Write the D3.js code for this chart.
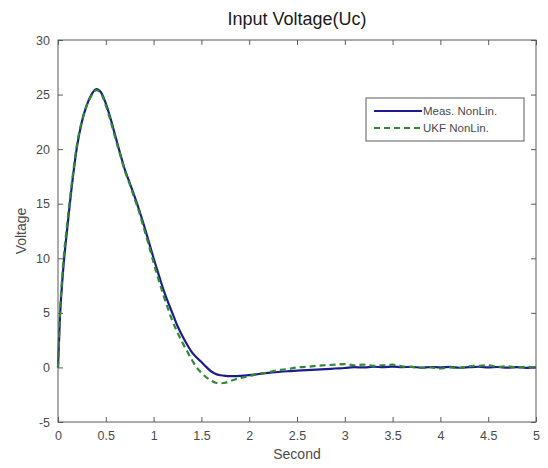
<!DOCTYPE html>
<html>
<head>
<meta charset="utf-8">
<script src="https://cdn.jsdelivr.net/npm/d3@7"></script>
<style>
  html, body { margin: 0; padding: 0; background: #fff; }
  svg { display: block; font-family: "Liberation Sans", Arial, sans-serif; }
</style>
</head>
<body>
<svg id="chart" width="548" height="468"></svg>
<script>
const times = [0, 0.02, 0.05, 0.1, 0.15, 0.2, 0.25, 0.3, 0.35, 0.4, 0.45, 0.5, 0.55, 0.6, 0.65, 0.7, 0.75, 0.8, 0.85, 0.9, 0.95,
  1.0, 1.05, 1.1, 1.15, 1.2, 1.25, 1.3, 1.35, 1.4, 1.45, 1.5, 1.55, 1.6, 1.65, 1.7, 1.75, 1.8, 1.85, 1.9, 1.95,
  2.0, 2.1, 2.2, 2.3, 2.4, 2.5, 2.6, 2.7, 2.8, 2.9, 3.0, 3.1, 3.2, 3.3, 3.4, 3.5, 3.6, 3.7, 3.8, 3.9,
  4.0, 4.1, 4.2, 4.3, 4.4, 4.5, 4.6, 4.7, 4.8, 4.9, 5.0];

const measNonLin = [0, 4.5, 8.5, 13.0, 17.0, 20.3, 22.5, 24.0, 25.0, 25.5, 25.2, 24.2, 22.8, 21.2, 19.6, 18.1, 16.9, 15.7, 14.4, 13.0, 11.5,
  10.0, 8.6, 7.2, 6.0, 4.9, 3.8, 2.9, 2.1, 1.4, 0.9, 0.5, 0.05, -0.35, -0.6, -0.72, -0.78, -0.8, -0.8, -0.78, -0.74,
  -0.7, -0.6, -0.5, -0.42, -0.35, -0.3, -0.25, -0.2, -0.15, -0.1, -0.05, 0.02, 0.0, 0.06, 0.02, 0.08, 0.03, 0.05, -0.02, 0.04,
  0.0, 0.05, -0.03, 0.02, 0.06, 0.0, 0.04, -0.02, 0.03, -0.04, 0.0];

const ukfNonLin = [0, 4.8, 9.0, 13.5, 17.3, 20.5, 22.6, 24.0, 24.9, 25.4, 25.1, 24.0, 22.6, 21.0, 19.5, 18.0, 16.8, 15.5, 14.2, 12.7, 11.2,
  9.6, 8.1, 6.7, 5.4, 4.2, 3.2, 2.3, 1.5, 0.7, 0.0, -0.5, -0.9, -1.2, -1.4, -1.45, -1.4, -1.25, -1.1, -1.0, -0.9,
  -0.8, -0.6, -0.45, -0.25, -0.15, 0.0, 0.05, 0.15, 0.2, 0.25, 0.3, 0.2, 0.25, 0.15, 0.2, 0.25, 0.1, 0.05, -0.05, 0.0,
  -0.1, 0.0, -0.05, 0.1, 0.15, 0.2, 0.05, 0.1, 0.0, 0.05, -0.05];

const xTicks = [0, 0.5, 1, 1.5, 2, 2.5, 3, 3.5, 4, 4.5, 5];
const yTicks = [-5, 0, 5, 10, 15, 20, 25, 30];
const seriesNames = ["Meas. NonLin.", "UKF NonLin."];

const W = 548, H = 468;
const margin = { left: 58, right: 12, top: 40, bottom: 46 };
const svg = d3.select("#chart");

const x = d3.scaleLinear().domain([0, 5]).range([margin.left, W - margin.right]);
const y = d3.scaleLinear().domain([-5, 30]).range([H - margin.bottom, margin.top]);

const axisColor = "#5a5a5a";
const textColor = "#4a4a4a";
const fmt = d => String(d);

svg.append("rect").attr("x", margin.left).attr("y", margin.top)
  .attr("width", x(5) - x(0)).attr("height", y(-5) - y(30)).attr("fill", "#fff");

const line = d3.line().x((d, i) => x(times[i])).y(d => y(d)).curve(d3.curveMonotoneX);

svg.append("path").datum(measNonLin).attr("d", line)
  .attr("fill", "none").attr("stroke", "#1c1c8f").attr("stroke-width", 2.2);
svg.append("path").datum(ukfNonLin).attr("d", line)
  .attr("fill", "none").attr("stroke", "#2f8a2f").attr("stroke-width", 2.2)
  .attr("stroke-dasharray", "6,4");

const tickLen = 5;
svg.append("g").attr("transform", `translate(0,${y(-5)})`)
  .call(d3.axisBottom(x).tickValues(xTicks).tickSizeInner(-tickLen).tickSizeOuter(0).tickPadding(9).tickFormat(fmt))
  .call(g => g.select(".domain").remove());
svg.append("g").attr("transform", `translate(0,${y(30)})`)
  .call(d3.axisTop(x).tickValues(xTicks).tickSizeInner(-tickLen).tickSizeOuter(0).tickFormat(""))
  .call(g => g.select(".domain").remove());
svg.append("g").attr("transform", `translate(${x(0)},0)`)
  .call(d3.axisLeft(y).tickValues(yTicks).tickSizeInner(-tickLen).tickSizeOuter(0).tickPadding(8).tickFormat(fmt))
  .call(g => g.select(".domain").remove());
svg.append("g").attr("transform", `translate(${x(5)},0)`)
  .call(d3.axisRight(y).tickValues(yTicks).tickSizeInner(-tickLen).tickSizeOuter(0).tickFormat(""))
  .call(g => g.select(".domain").remove());

svg.selectAll(".tick line").attr("stroke", axisColor);
svg.selectAll(".tick text").attr("fill", textColor).style("font-size", "12.5px")
  .style("font-family", "'Liberation Sans', Arial, sans-serif");

svg.append("rect").attr("x", x(0)).attr("y", y(30))
  .attr("width", x(5) - x(0)).attr("height", y(-5) - y(30))
  .attr("fill", "none").attr("stroke", axisColor).attr("stroke-width", 1);

svg.append("text").attr("x", 297).attr("y", 25).attr("text-anchor", "middle")
  .attr("fill", "#1a1a1a").style("font-size", "18px").text("Input Voltage(Uc)");
svg.append("text").attr("x", 297).attr("y", 459).attr("text-anchor", "middle")
  .attr("fill", textColor).style("font-size", "14px").text("Second");
svg.append("text").attr("transform", `translate(26,${(y(30) + y(-5)) / 2}) rotate(-90)`)
  .attr("text-anchor", "middle").attr("fill", textColor).style("font-size", "14px").text("Voltage");

const lg = svg.append("g").attr("transform", "translate(366,98)");
lg.append("rect").attr("width", 158).attr("height", 43).attr("fill", "#fff")
  .attr("stroke", axisColor).attr("stroke-width", 1);
const legendItems = [
  { name: seriesNames[0], color: "#1c1c8f", dash: null },
  { name: seriesNames[1], color: "#2f8a2f", dash: "6,4" }
];
legendItems.forEach((it, i) => {
  const yy = 13 + i * 17;
  lg.append("line").attr("x1", 8).attr("x2", 56).attr("y1", yy).attr("y2", yy)
    .attr("stroke", it.color).attr("stroke-width", 2.2).attr("stroke-dasharray", it.dash);
  lg.append("text").attr("x", 57).attr("y", yy + 4).attr("fill", textColor)
    .style("font-size", "11.5px").text(it.name);
});
</script>
</body>
</html>
